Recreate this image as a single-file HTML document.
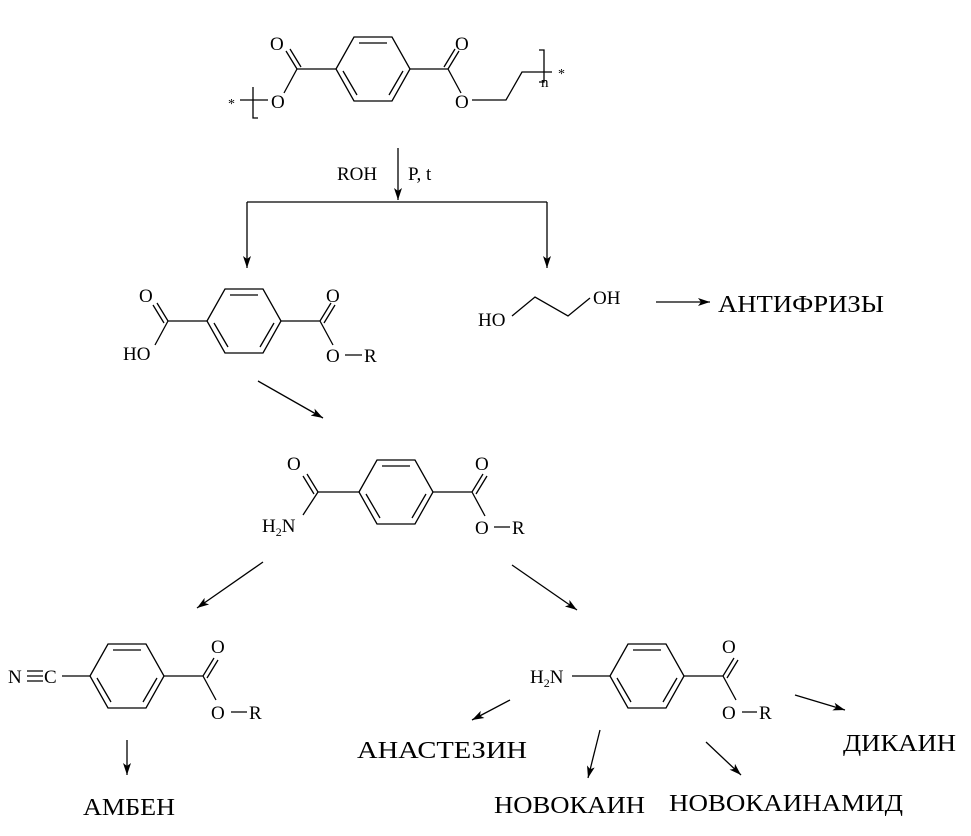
<!DOCTYPE html>
<html><head><meta charset="utf-8"><style>body{margin:0;background:#fff}svg{display:block}</style></head><body>
<svg width="971" height="836" xmlns="http://www.w3.org/2000/svg" font-family="Liberation Serif, serif" stroke="#000" stroke-width="1.3" fill="none">
<defs>
<marker id="a" viewBox="0 0 12 8" refX="12" refY="4" markerWidth="12" markerHeight="8" orient="auto" markerUnits="userSpaceOnUse"><path d="M0,0 L12,4 L0,8 L3,4z" fill="#000" stroke="none"/></marker>
<g id="ring"><path d="M-37,0 L-19,-32 L19,-32 L37,0 L19,32 L-19,32 Z"/><path d="M-14,-26 L14,-26 M-30,2 L-16,26 M30,2 L16,26"/></g>
</defs>
<g fill="#000" stroke="none" font-size="19">
<text x="228" y="108" font-size="14">*</text><text x="270" y="50">O</text><text x="271" y="108">O</text>
<text x="455" y="50">O</text><text x="455" y="108">O</text><text x="541" y="87" font-size="15">n</text><text x="558" y="78" font-size="14">*</text>
<text x="337" y="180">ROH</text><text x="408" y="180">P, t</text>
<text x="139" y="302">O</text><text x="123" y="360">HO</text><text x="326" y="302">O</text><text x="326" y="362">O</text><text x="364" y="362">R</text>
<text x="478" y="326">HO</text><text x="593" y="304">OH</text>
<text x="718" y="312" font-size="24" textLength="166" lengthAdjust="spacingAndGlyphs">АНТИФРИЗЫ</text>
<text x="287" y="470">O</text><text x="262" y="532">H<tspan font-size="12" dy="4">2</tspan><tspan dy="-4">N</tspan></text>
<text x="475" y="470">O</text><text x="475" y="534">O</text><text x="512" y="534">R</text>
<text x="8" y="683">N</text><text x="44" y="683">C</text>
<text x="211" y="653">O</text><text x="211" y="719">O</text><text x="249" y="719">R</text>
<text x="530" y="683">H<tspan font-size="12" dy="4">2</tspan><tspan dy="-4">N</tspan></text>
<text x="722" y="653">O</text><text x="722" y="719">O</text><text x="759" y="719">R</text>
<g font-size="24" lengthAdjust="spacingAndGlyphs">
<text x="83" y="815" textLength="92" lengthAdjust="spacingAndGlyphs">АМБЕН</text>
<text x="357" y="758" textLength="170" lengthAdjust="spacingAndGlyphs">АНАСТЕЗИН</text>
<text x="494" y="813" textLength="151" lengthAdjust="spacingAndGlyphs">НОВОКАИН</text>
<text x="669" y="811" textLength="234" lengthAdjust="spacingAndGlyphs">НОВОКАИНАМИД</text>
<text x="843" y="751" textLength="113" lengthAdjust="spacingAndGlyphs">ДИКАИН</text></g>
</g>
<use href="#ring" x="373" y="69"/>
<path d="M240,100 L268,100 M253,87 V118 H258 M336,69 H297 L284,93 M297,69 L286,51 M301,67 L290,49 M410,69 H448 L461,93 M448,69 L459,51 M444,67 L455,49 M472,100 H506 L522,72 H552 M539,50 H544 V82 H539"/>
<path d="M398,148 V200" marker-end="url(#a)"/>
<path d="M247,202 H547"/>
<path d="M247,202 V268" marker-end="url(#a)"/><path d="M547,202 V268" marker-end="url(#a)"/>
<use href="#ring" x="244" y="321"/>
<path d="M207,321 H168 L157,303 M164,323 L153,305 M168,321 L155,345 M281,321 H320 L331,303 M324,323 L335,305 M320,321 L333,345 M345,355 H362"/>
<path d="M512,316 L535,297 L568,316 L590,298"/>
<path d="M656,302 H710" marker-end="url(#a)"/>
<path d="M258,381 L323,418" marker-end="url(#a)"/>
<use href="#ring" x="396" y="492"/>
<path d="M359,492 H318 L307,474 M314,494 L303,476 M318,492 L303,515 M433,492 H472 L483,474 M476,494 L487,476 M472,492 L485,516 M494,527 H510"/>
<path d="M263,562 L197,608" marker-end="url(#a)"/><path d="M512,565 L577,610" marker-end="url(#a)"/>
<use href="#ring" x="127" y="676"/>
<path d="M27,671 H43 M27,676 H43 M27,681 H43 M62,676 H90 M164,676 H203 L214,658 M207,678 L218,660 M203,676 L216,700 M231,712 H247"/>
<path d="M127,740 V775" marker-end="url(#a)"/>
<use href="#ring" x="647" y="676"/>
<path d="M572,676 H610 M684,676 H723 L734,658 M727,678 L738,660 M723,676 L736,700 M742,712 H757"/>
<path d="M510,700 L472,720" marker-end="url(#a)"/><path d="M600,730 L588,778" marker-end="url(#a)"/>
<path d="M706,742 L741,775" marker-end="url(#a)"/><path d="M795,695 L845,710" marker-end="url(#a)"/>
</svg>
</body></html>
